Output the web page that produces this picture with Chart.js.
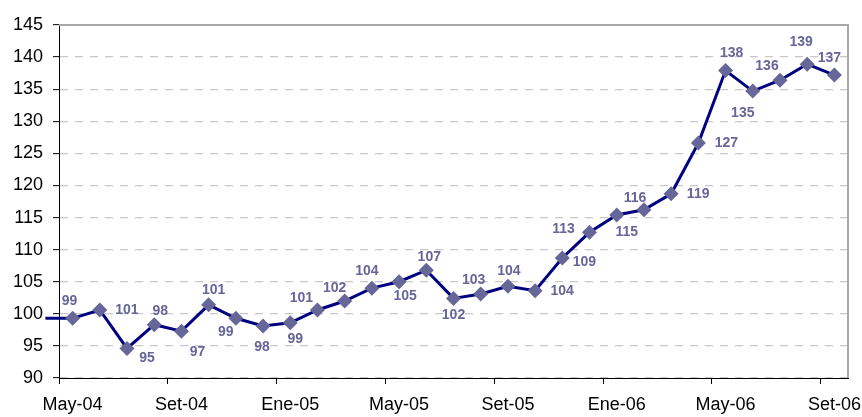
<!DOCTYPE html>
<html>
<head>
<meta charset="utf-8">
<script src="https://cdn.jsdelivr.net/npm/chart.js@4/dist/chart.umd.min.js"></script>
<style>
  html,body{margin:0;padding:0;background:#fff;}
  #wrap{width:862px;height:417px;position:relative;}
</style>
</head>
<body>
<div id="wrap"><canvas id="chart"></canvas></div>
<script>
// ══════════════════════════════════════════
// DATOS
// ══════════════════════════════════════════
const meses=['Abr-04','May-04','Jun-04','Jul-04','Ago-04','Set-04','Oct-04','Nov-04','Dic-04',
  'Ene-05','Feb-05','Mar-05','Abr-05','May-05','Jun-05','Jul-05','Ago-05','Set-05','Oct-05','Nov-05','Dic-05',
  'Ene-06','Feb-06','Mar-06','Abr-06','May-06','Jun-06','Jul-06','Ago-06','Set-06'];
const indice=[99.3,99.3,100.6,94.6,98.3,97.3,101.4,99.3,98.1,
  98.6,100.6,102.0,104.0,105.0,106.8,102.4,103.1,104.3,103.6,108.7,112.7,
  115.4,116.2,118.7,126.6,137.9,134.7,136.4,138.9,137.2];
const yTicks={min:90,max:145,step:5};
const cadaMeses=4; // una etiqueta del eje x cada 4 meses, desde May-04

// posicion de cada etiqueta respecto a su punto (dx,dy en px); null = sin etiqueta
const etiquetaPos=[null,[-3,-17],[27,0],[20,10],[6,-14],[16,21],[5,-15],[-10,14],[-1,21],
  [5,16],[-16,-12],[-10,-13],[-5,-17],[6,14],[3,-13],[0,17],[-7,-14],[1,-15],[27,0],[22,4],[-26,-3],
  [10,17],[-9,-12],[27,0],[28,0],[6,-17],[-10,22],[-13,-14],[-6,-22],[-5,-17]];

const puntos=indice.map((v,i)=>({x:i-0.5,y:v}));

// ══════════════════════════════════════════
// PLUGINS
// ══════════════════════════════════════════
const marco={
  id:'marco',
  beforeDatasetsDraw(c){
    const {ctx,chartArea:a}=c;
    ctx.save();
    ctx.strokeStyle='#a8a8a8';ctx.lineWidth=2;
    ctx.beginPath();
    ctx.moveTo(a.left,a.top);ctx.lineTo(a.right,a.top);ctx.lineTo(a.right,a.bottom);
    ctx.stroke();
    ctx.restore();
  }
};
const etiquetas={
  id:'etiquetas',
  afterDatasetsDraw(c){
    const {ctx}=c,meta=c.getDatasetMeta(0);
    ctx.save();
    ctx.font='bold 14px "Liberation Sans", Arial, sans-serif';
    ctx.fillStyle='#666699';ctx.textAlign='center';ctx.textBaseline='middle';
    meta.data.forEach((p,i)=>{
      const o=etiquetaPos[i];
      if(!o)return;
      ctx.fillText(String(Math.round(indice[i])),p.x+o[0],p.y+o[1]);
    });
    ctx.restore();
  }
};

// ══════════════════════════════════════════
// GRAFICO
// ══════════════════════════════════════════
const fuente={family:'"Liberation Sans", Arial, sans-serif',size:18};
new Chart(document.getElementById('chart'),{
  type:'line',
  data:{datasets:[{
    data:puntos,
    borderColor:'#000080',borderWidth:3,tension:0,fill:false,clip:false,
    pointStyle:'rectRot',
    pointRadius:ctx=>ctx.dataIndex===0?0:7.5,
    pointHoverRadius:ctx=>ctx.dataIndex===0?0:7.5,
    pointBackgroundColor:'#666699',pointBorderColor:'#666699',pointBorderWidth:0
  }]},
  options:{
    responsive:true,maintainAspectRatio:false,animation:false,
    layout:{padding:{top:25,right:14,left:0,bottom:0}},
    plugins:{legend:{display:false},tooltip:{enabled:false}},
    scales:{
      x:{
        type:'linear',min:0,max:meses.length-1,
        afterFit:s=>{s.height=39;},
        afterBuildTicks:s=>{
          s.ticks=meses.slice(1).map((m,i)=>i).filter(i=>i%cadaMeses===0).map(v=>({value:v}));
        },
        border:{color:'#000',width:1},
        grid:{drawOnChartArea:false,tickLength:6,tickColor:'#000'},
        ticks:{autoSkip:false,maxRotation:0,padding:10,labelOffset:13.6,color:'#000',font:fuente,
          callback:v=>meses[v+1]||''}
      },
      y:{
        min:yTicks.min,max:yTicks.max,
        afterFit:s=>{s.width=59;},
        border:{color:'#000',width:1,dash:[8,7]},
        grid:{color:'#c8c8c8',lineWidth:1.3,tickColor:'#000',tickWidth:1,tickBorderDash:[],tickLength:6},
        ticks:{stepSize:yTicks.step,padding:10,color:'#000',font:fuente}
      }
    }
  },
  plugins:[marco,etiquetas]
});
</script>
</body>
</html>
